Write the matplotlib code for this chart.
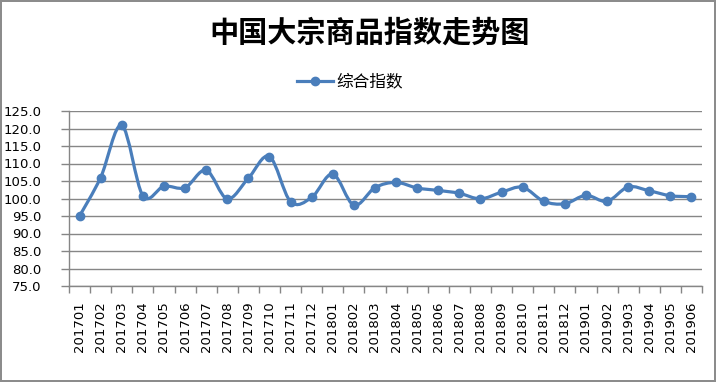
import numpy as np
import matplotlib
matplotlib.use('Agg')
import matplotlib.pyplot as plt
from matplotlib.path import Path
from matplotlib.patches import PathPatch
from matplotlib.lines import Line2D

plt.rcParams['font.family'] = ['Noto Sans CJK SC', 'DejaVu Sans']

# 数据
months = ['201701', '201702', '201703', '201704', '201705', '201706',
          '201707', '201708', '201709', '201710', '201711', '201712',
          '201801', '201802', '201803', '201804', '201805', '201806',
          '201807', '201808', '201809', '201810', '201811', '201812',
          '201901', '201902', '201903', '201904', '201905', '201906']
index_values = [95.0, 106.0, 120.9, 100.8, 103.5, 103.1,
                108.1, 99.9, 105.8, 112.0, 99.1, 100.3,
                107.0, 98.1, 103.1, 104.6, 103.0, 102.3,
                101.5, 99.9, 101.8, 103.2, 99.2, 98.5,
                100.9, 99.2, 103.3, 102.2, 100.8, 100.5]
series_name = '综合指数'
title = '中国大宗商品指数走势图'
yticks = [75.0, 80.0, 85.0, 90.0, 95.0, 100.0, 105.0, 110.0, 115.0, 120.0, 125.0]

blue = '#4A7EBB'
grid_gray = '#868686'

fig = plt.figure(figsize=(7.16, 3.82), dpi=100)
fig.patch.set_edgecolor('#8c8c8c')
fig.patch.set_linewidth(1.5)
ax = fig.add_axes([69 / 716, 1 - 286 / 382, (702 - 69) / 716, (286 - 111) / 382])

x = np.arange(len(months))
y = np.array(index_values)

# 平滑曲线 (Catmull-Rom -> Bezier)
verts = [(x[0], y[0])]
codes = [Path.MOVETO]
n = len(x)
for i in range(n - 1):
    p0 = np.array([x[max(i - 1, 0)], y[max(i - 1, 0)]])
    p1 = np.array([x[i], y[i]])
    p2 = np.array([x[i + 1], y[i + 1]])
    p3 = np.array([x[min(i + 2, n - 1)], y[min(i + 2, n - 1)]])
    c1 = p1 + (p2 - p0) / 6
    c2 = p2 - (p3 - p1) / 6
    verts += [tuple(c1), tuple(c2), tuple(p2)]
    codes += [Path.CURVE4] * 3
ax.add_patch(PathPatch(Path(verts, codes), facecolor='none', edgecolor=blue,
                       linewidth=2.3, zorder=3, capstyle='round', joinstyle='round'))
ax.plot(x, y, linestyle='none', marker='o', markersize=6, color=blue, zorder=4)

ax.set_xlim(-0.5, n - 0.5)
ax.set_ylim(75, 125)
ax.set_yticks(yticks)
ax.set_yticklabels(['%.1f' % v for v in yticks], fontsize=9.5, family=['DejaVu Sans'])
ax.set_xticks(x)
ax.set_xticklabels(months, rotation=90, fontsize=9.5, family=['DejaVu Sans'])
ax.set_xticks(np.arange(-0.5, n, 1), minor=True)
ax.tick_params(axis='x', which='major', length=0, pad=11)
ax.tick_params(axis='x', which='minor', length=5, color=grid_gray, width=1)
ax.tick_params(axis='y', length=6, color=grid_gray, width=1, pad=14)
ax.grid(axis='y', color=grid_gray, linewidth=1)
ax.set_axisbelow(True)
for s in ['top', 'right']:
    ax.spines[s].set_visible(False)
for s in ['left', 'bottom']:
    ax.spines[s].set_color(grid_gray)
    ax.spines[s].set_linewidth(1)

fig.text(370 / 716, 1 - 33 / 382, title, ha='center', va='center',
         fontsize=21, fontweight='bold')

handle = Line2D([], [], color=blue, linewidth=2.3, marker='o', markersize=6)
fig.legend([handle], [series_name], loc='center', bbox_to_anchor=(350 / 716, 1 - 82 / 382),
           frameon=False, fontsize=12, handlelength=2.2, handletextpad=0.2)

fig.savefig('out.png', dpi=100)
